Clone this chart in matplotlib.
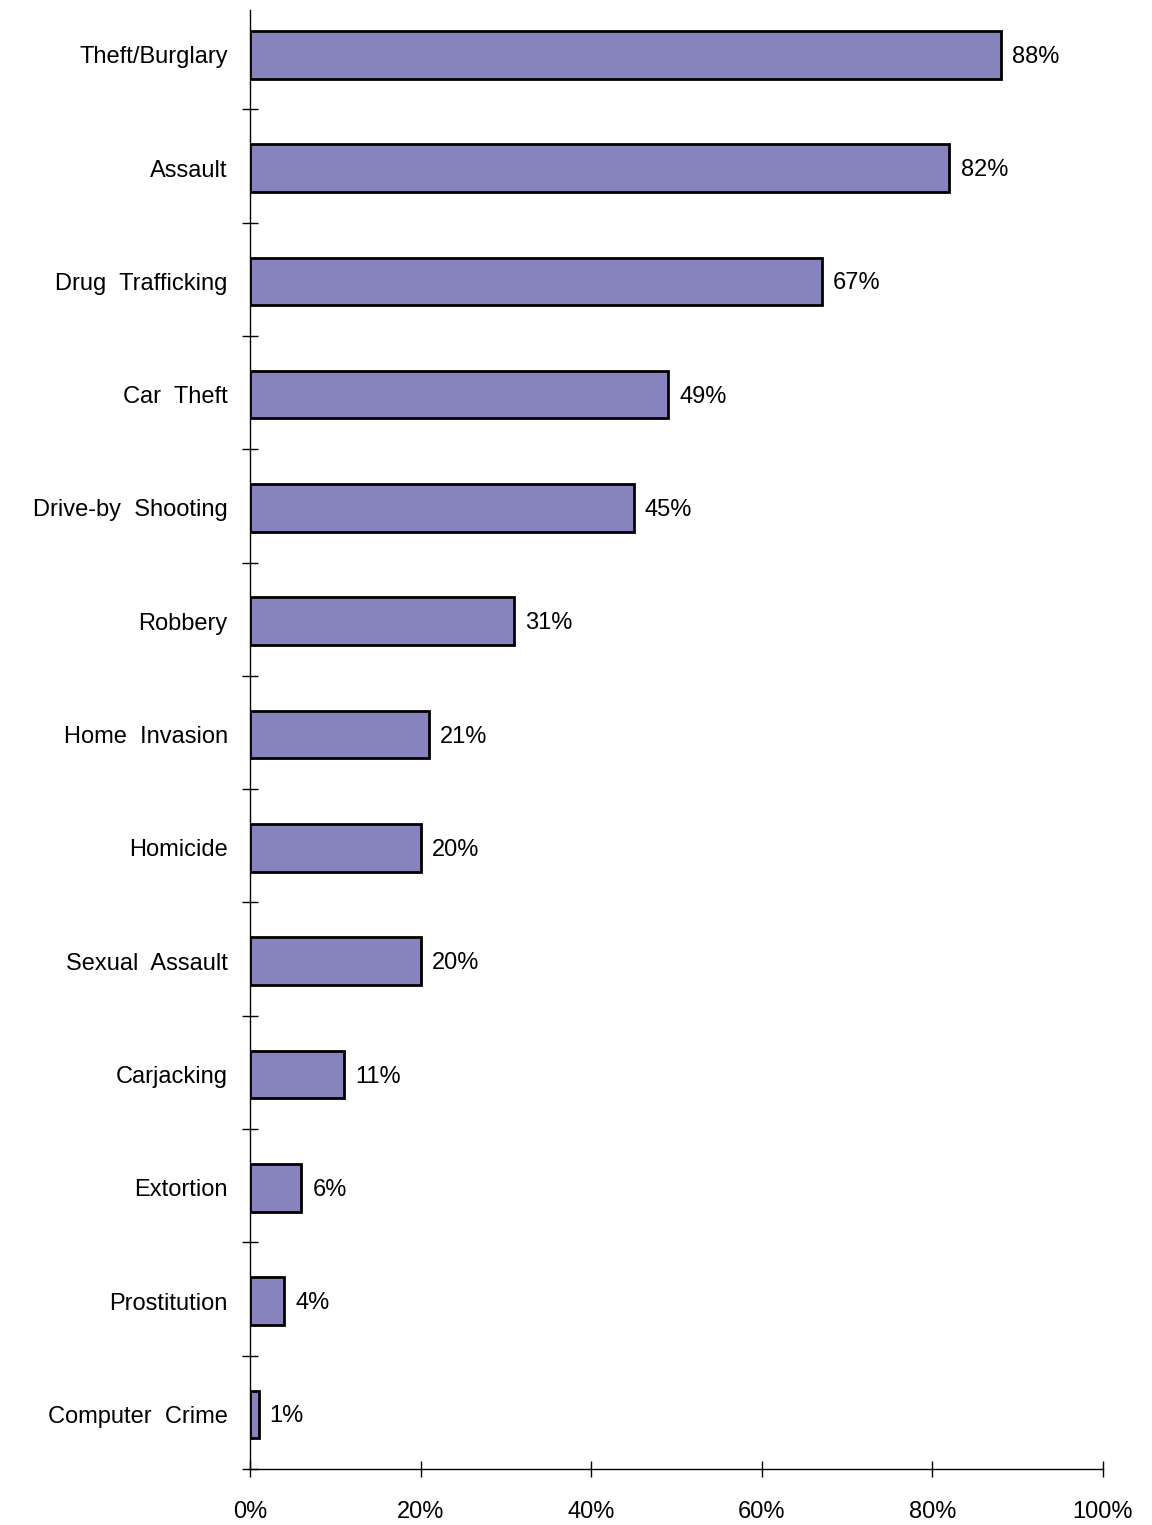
import matplotlib
matplotlib.use("Agg")
import matplotlib.pyplot as plt
import numpy as np

# Share of respondents reporting each type of crime (percent)
categories = [
    "Theft/Burglary", "Assault", "Drug Trafficking", "Car Theft",
    "Drive-by Shooting", "Robbery", "Home Invasion", "Homicide",
    "Sexual Assault", "Carjacking", "Extortion", "Prostitution",
    "Computer Crime",
]
values = [88, 82, 67, 49, 45, 31, 21, 20, 20, 11, 6, 4, 1]
x_ticks = [0, 20, 40, 60, 80, 100]
x_tick_labels = ["0%", "20%", "40%", "60%", "80%", "100%"]

plt.rcParams["font.family"] = ["Liberation Sans", "DejaVu Sans"]
FS = 17

W, H = 1152, 1525
fig = plt.figure(figsize=(W / 100, H / 100), dpi=100)
left, right, top, bottom = 250, 1103, 10, 1469
ax = fig.add_axes([left / W, (H - bottom) / H, (right - left) / W, (bottom - top) / H])

n = len(categories)
pos = np.arange(n)
ax.barh(pos + 0.018, values, height=0.42, color="#8783BD", edgecolor="black",
        linewidth=2.0, zorder=3)

for p, v in zip(pos, values):
    ax.annotate(f"{v}%", xy=(v, p + 0.018), xytext=(8, -1.5), textcoords="offset points",
                ha="left", va="center", fontsize=FS, color="black")

ax.set_xlim(0, 100)
ax.set_ylim(n - 0.5, -0.377)

ax.set_xticks(x_ticks)
ax.set_xticklabels(x_tick_labels, fontsize=FS)
ax.tick_params(axis="x", direction="inout", length=12, width=1, pad=17)

ax.set_yticks(pos + 0.018)
ax.set_yticklabels([c.replace(" ", "  ") for c in categories], fontsize=FS)
ax.set_yticks(np.arange(n) + 0.5, minor=True)
ax.tick_params(axis="y", which="major", length=0, pad=16)
ax.tick_params(axis="y", which="minor", direction="inout", length=11, width=1)

for side in ("top", "right"):
    ax.spines[side].set_visible(False)
for side in ("left", "bottom"):
    ax.spines[side].set_linewidth(1)

fig.savefig("out.png", dpi=100)
